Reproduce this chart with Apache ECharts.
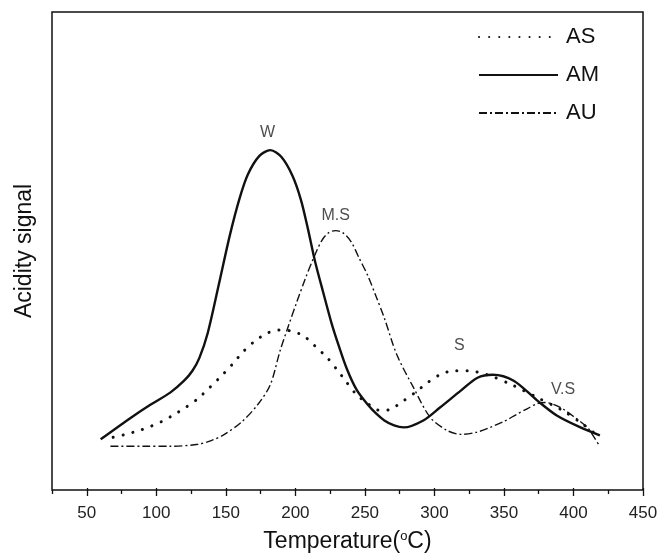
<!DOCTYPE html>
<html>
<head>
<meta charset="utf-8">
<script src="https://cdn.jsdelivr.net/npm/echarts@6/dist/echarts.min.js"></script>
<style>
  html, body { margin: 0; padding: 0; background: #fff; }
  #chart { width: 661px; height: 558px; }
</style>
</head>
<body>
<div id="chart"></div>
<script>
// Temperature (°C) / acidity signal (a.u.) pairs for each sample
var AS = [[69,51],[78,54],[88,58],[96,62],[104,67],[113,74],[121,81],[130,90],[139,102],[147,113],[155,125],[163,138],[171,148],[180,156],[188,159],[197,158],[206,153],[214,143],[223,131],[230,119],[236,108],[244,94],[253,84],[261,78],[268,79],[278,88],[287,97],[295,106],[304,114],[314,118],[324,118],[338,114],[357,103],[374,91],[391,79],[405,66],[419,51]];
var AM = [[60,49],[82,71],[96,84],[110,96],[120,108],[126,118],[131,131],[137,156],[145,205],[153,255],[160,292],[166,316],[174,334],[182,340],[190,333],[198,314],[204,290],[209,261],[214,229],[220,197],[226,166],[231,144],[237,120],[244,99],[252,84],[258,75],[264,68],[271,63],[278,61],[292,68],[304,81],[319,98],[331,111],[342,114],[357,108],[374,88],[388,73],[405,61],[419,53]];
var AU = [[67,42],[90,42],[110,42],[130,44],[140,48],[149,54],[161,66],[173,84],[182,104],[189,138],[195,163],[201,187],[207,210],[213,231],[219,249],[224,257],[229,259],[234,257],[240,248],[246,231],[252,214],[258,193],[264,171],[273,134],[285,101],[297,71],[309,58],[319,54],[330,56],[340,61],[350,67],[359,74],[367,80],[374,85],[380,86],[386,84],[393,79],[400,72],[410,61],[414,53],[418,44]];

// Peak annotations: [temperature, signal, text]
var peakNotes = [[180,358,'W'],[229,274,'M.S'],[318,143,'S'],[392.5,99,'V.S']];

var majorTicks = [50,100,150,200,250,300,350,400,450];
var minorTicks = [25,75,125,175,225,275,325,375,425];

var font = 'Liberation Sans, Arial, sans-serif';
var chart = echarts.init(document.getElementById('chart'));

chart.setOption({
  animation: false,
  backgroundColor: '#fff',
  // the grid border draws the whole frame, axis lines stay hidden
  grid: {
    left: 52, right: 18, top: 12, bottom: 65,
    show: true, borderColor: '#111', borderWidth: 1.5
  },
  legend: {
    data: ['AS', 'AM', 'AU'],
    orient: 'vertical',
    left: 473, top: 21,
    itemWidth: 79, itemHeight: 22, itemGap: 16,
    itemStyle: { opacity: 0 },
    textStyle: { fontFamily: font, fontSize: 22, color: '#111', padding: [0, 0, 0, 3] }
  },
  xAxis: [{
    type: 'value', min: 25, max: 450,
    name: 'Temperature({o|o}C)',
    nameLocation: 'middle', nameGap: 40,
    nameTextStyle: {
      fontFamily: font, fontSize: 23, color: '#111',
      rich: { o: { fontFamily: font, fontSize: 13, color: '#111', verticalAlign: 'top', padding: [0, 0, 10, 0] } }
    },
    splitLine: { show: false },
    axisLine: { show: false },
    axisTick: { show: true, customValues: majorTicks, length: 8, lineStyle: { color: '#111', width: 1.3 } },
    axisLabel: { customValues: majorTicks, margin: 15, fontFamily: font, fontSize: 17, color: '#222' }
  }, {
    type: 'value', min: 25, max: 450, position: 'bottom',
    splitLine: { show: false },
    axisLine: { show: false },
    axisTick: { show: true, customValues: minorTicks, length: 4, lineStyle: { color: '#111', width: 1.3 } },
    axisLabel: { show: false }
  }],
  yAxis: {
    type: 'value', min: -2, max: 479,
    name: 'Acidity signal',
    nameLocation: 'middle', nameGap: 16,
    nameTextStyle: { fontFamily: font, fontSize: 23, color: '#111' },
    splitLine: { show: false },
    axisLine: { show: false },
    axisTick: { show: false },
    axisLabel: { show: false }
  },
  series: [{
    name: 'AS', type: 'line', data: AS, smooth: 0.3, symbol: 'none',
    lineStyle: { color: '#111', width: 3, type: [0.1, 10], cap: 'round' },
    itemStyle: { color: '#111' }
  }, {
    name: 'AM', type: 'line', data: AM, smooth: 0.3, symbol: 'none',
    lineStyle: { color: '#111', width: 2.4 },
    itemStyle: { color: '#111' }
  }, {
    name: 'AU', type: 'line', data: AU, smooth: 0.3, symbol: 'none',
    lineStyle: { color: '#111', width: 1.4, type: [8, 3, 2, 3] },
    itemStyle: { color: '#111' }
  }, {
    name: 'notes', type: 'scatter', symbolSize: 0,
    data: peakNotes.map(function (p) { return { value: [p[0], p[1]], name: p[2] }; }),
    label: {
      show: true, position: 'inside', formatter: '{b}',
      fontFamily: font, fontSize: 16, color: '#222'
    },
    silent: true
  }]
});
</script>
</body>
</html>
